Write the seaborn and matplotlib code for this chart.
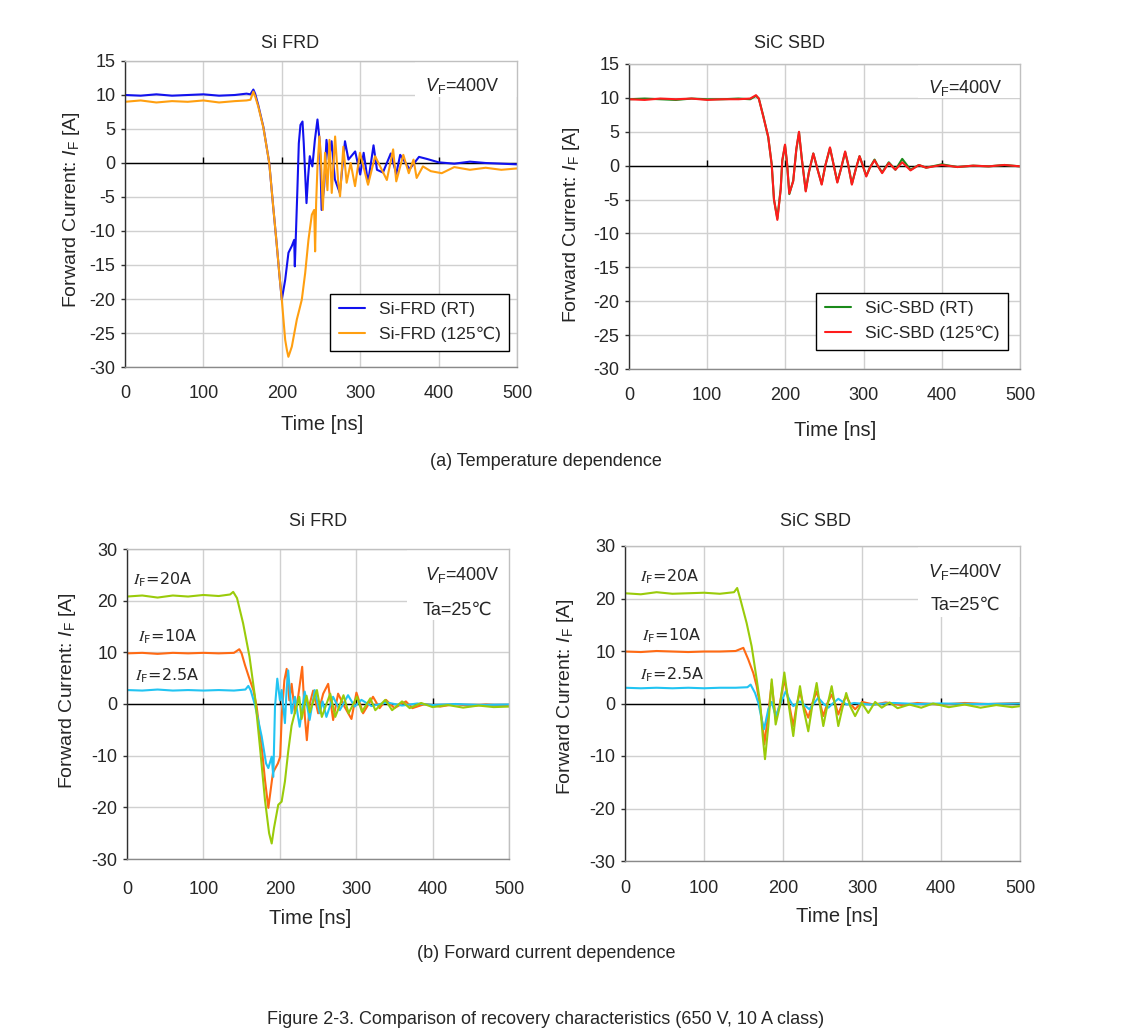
import matplotlib
matplotlib.use('Agg')
import matplotlib.pyplot as plt
import matplotlib.patches as mpatches
import pandas as pd
import seaborn as sns

sns.set_style('white')
plt.rcParams['font.family'] = ['Liberation Sans', 'DejaVu Sans']
plt.rcParams['mathtext.fontset'] = 'custom'
plt.rcParams['mathtext.rm'] = 'Liberation Sans'
plt.rcParams['mathtext.it'] = 'Liberation Sans:italic'
plt.rcParams['axes.unicode_minus'] = False

# ---- data: (time [ns], current [A]) ----
# (a) temperature dependence, Si FRD
si_rt = [(0, 10.0), (20, 9.9), (40, 10.1), (60, 9.9), (80, 10.0), (100, 10.1), (120, 9.9), (140, 10.0),
         (155, 10.2), (160, 10.1), (163.7, 10.8), (166, 10.2), (170, 8.5), (176.5, 5.3), (184, 0.0),
         (189, -6.4), (193.4, -11.8), (197, -16.5), (200, -20.1), (204.3, -17.2), (208.5, -13.2),
         (212.8, -12.2), (215.8, -11.3), (216.6, -15.2), (217.9, -10.8), (220, -3.5), (221.7, 2.9),
         (223.8, 5.6), (226.4, 6.1), (228, 2.9), (231.5, -5.9), (233.6, -2.0), (235.7, 1.0), (239, -0.5),
         (242.2, 3.4), (245.5, 6.4), (248.6, 2.9), (250.8, -6.9), (254, -3.5), (257, 3.4), (260, 0.5),
         (263.5, 3.2), (267.7, -2.4), (274, -4.4), (280.6, 3.2), (285, 0.5), (293.6, 1.7), (300, -1.7),
         (304.4, 1.5), (310, -2.9), (317, 2.6), (321.4, -1.0), (329, -1.4), (339, 1.4), (346, -1.6),
         (351, 1.2), (363, -0.9), (375, 0.9), (385, 0.6), (400, 0.1), (420, -0.1), (440, 0.2),
         (460, 0.0), (480, -0.1), (500, -0.2)]
si_125 = [(0, 9.0), (20, 9.2), (40, 8.9), (60, 9.1), (80, 9.0), (100, 9.2), (120, 8.9), (140, 9.1),
          (155, 9.2), (160, 9.3), (163.7, 10.5), (166, 9.8), (170, 8.3), (176.5, 5.2), (184, 0.0),
          (189, -6.4), (193.4, -11.8), (197, -16.5), (200, -20.1), (204.3, -26.0), (206.5, -27.5),
          (208.4, -28.5), (210.5, -27.8), (212.8, -27.0), (216, -25.0), (219.2, -23.0), (222.5, -21.5),
          (225.5, -20.1), (229.8, -16.2), (234, -11.3), (238.3, -7.6), (241.3, -6.9), (242.5, -13.0),
          (243.8, -5.9), (245.5, -0.5), (248, 3.9), (249.8, 1.0), (252.3, -6.9), (255.2, 1.5),
          (258.2, -4.0), (260.8, 3.4), (263.7, -4.4), (268, 3.9), (272, -2.9), (274.3, -4.9),
          (278.5, 2.4), (282.7, -2.9), (287.8, 0.0), (293.4, -3.4), (299.7, 1.5), (310, -3.2),
          (319, 1.0), (334, -2.5), (342, 2.0), (346, -2.7), (355, 1.2), (362, -1.5), (368, 0.5),
          (372, -2.2), (380, -0.5), (390, -1.2), (404, -1.5), (420, -0.6), (440, -1.0), (460, -0.7),
          (480, -1.0), (500, -0.8)]

# (a) temperature dependence, SiC SBD
sic_rt = [(0, 9.8), (20, 9.9), (40, 9.8), (60, 9.7), (80, 9.9), (100, 9.8), (120, 9.8), (140, 9.9),
          (155, 9.8), (162.4, 10.3), (166, 9.9), (171.8, 7.3), (178, 4.2), (182.5, 0.2), (185.4, -5.0),
          (189.7, -7.8), (194, -3.4), (196, 0.7), (199.5, 3.0), (202, 0.5), (205, -4.2), (210, -2.2),
          (214, 2.4), (217.4, 4.9), (221, 1.0), (226, -3.7), (230, -1.0), (235.7, 1.8), (241, -0.5),
          (246.4, -2.7), (251, 0.0), (257, 2.6), (261, 0.5), (266.4, -2.4), (271, -0.5), (276.4, 2.0),
          (280, 0.3), (285, -2.7), (290, -0.5), (294.8, 1.4), (299, 0.0), (303.4, -1.5), (308, -0.3),
          (314, 0.9), (318, 0.0), (323.7, -1.0), (332.2, 0.5), (340.7, -0.6), (349.4, 1.0),
          (360, -0.6), (370.7, 0.1), (380, -0.3), (400, 0.2), (420, -0.2), (440, 0.0), (460, -0.1),
          (480, 0.1), (500, -0.1)]
sic_125 = [(0, 9.8), (20, 9.7), (40, 9.9), (60, 9.8), (80, 9.9), (100, 9.7), (120, 9.8), (140, 9.8),
           (155, 9.9), (162.4, 10.4), (166, 9.9), (171.8, 7.2), (178, 4.3), (182.5, 0.1), (185.4, -5.0),
           (189.7, -8.0), (194, -3.5), (196, 0.8), (199.5, 3.1), (202, 0.5), (205, -4.1), (210, -2.3),
           (214, 2.5), (217.4, 5.0), (221, 1.0), (226, -3.8), (230, -1.0), (235.7, 1.8), (241, -0.5),
           (246.4, -2.8), (251, 0.0), (257, 2.7), (261, 0.5), (266.4, -2.5), (271, -0.5), (276.4, 2.1),
           (280, 0.3), (285, -2.8), (290, -0.5), (294.8, 1.4), (299, 0.0), (303.4, -1.6), (308, -0.3),
           (314, 0.8), (318, 0.0), (323.7, -1.1), (332.2, 0.4), (340.7, -0.6), (349.4, 0.5),
           (360, -0.7), (370.7, 0.1), (380, -0.3), (400, 0.1), (420, -0.2), (440, 0.0), (460, -0.1),
           (480, 0.1), (500, -0.1)]

# (b) forward current dependence, Si FRD
frd_20a = [(0, 20.8), (20, 21.0), (40, 20.6), (60, 21.0), (80, 20.8), (100, 21.1), (120, 20.9),
           (135, 21.2), (139, 21.7), (144, 20.5), (152, 15.6), (160.3, 9.2), (167.5, 1.4), (174, -8.3),
           (180.6, -18.6), (186, -25.0), (189.4, -27.0), (192.4, -24.0), (198, -19.5), (202.4, -18.9),
           (206.7, -15.0), (211, -9.2), (215.4, -4.2), (219.8, -1.6), (225.5, 1.4), (228.5, -2.9),
           (235, 1.6), (239.3, -1.6), (246, 1.6), (248.6, 2.7), (255, -2.5), (266, 2.0), (272.6, -2.5),
           (283.4, 1.7), (290, -1.8), (301, 1.4), (307.5, -1.5), (318.5, 1.1), (325, -1.2), (338, 0.8),
           (347, -1.2), (360, 0.5), (370, -0.8), (385, 0.2), (400, -0.6), (420, -0.2), (440, -0.7),
           (460, -0.3), (480, -0.6), (500, -0.5)]
frd_10a = [(0, 9.8), (20, 9.9), (40, 9.7), (60, 9.9), (80, 9.8), (100, 9.9), (120, 9.8), (140, 9.9),
           (147, 10.6), (150, 9.8), (154.5, 7.5), (160, 5.0), (165.4, 2.7), (169.7, -0.5), (176.3, -8.3),
           (180.6, -14.7), (185, -20.1), (191, -13.3), (197.5, -11.5), (200.5, -10.2), (202.7, -1.8),
           (206, 4.6), (209, 6.8), (212.5, 0.7), (215.5, 3.9), (219.8, -1.8), (224, 1.4), (229.3, 7.2),
           (232.8, -2.5), (235.4, -7.0), (239.3, 0.1), (243.7, 2.6), (250.2, -1.8), (256.8, 2.0),
           (263.3, 3.9), (269.8, -3.1), (276.3, 2.0), (285, -0.6), (293.8, -2.9), (300.3, 2.2),
           (309, -1.8), (322, 1.4), (330.6, -0.8), (339, 0.8), (350, -0.8), (365, 0.5), (373.6, -0.8),
           (390, 0.0), (410, -0.5), (430, 0.0), (450, -0.4), (470, -0.1), (500, -0.4)]
frd_2a5 = [(0, 2.7), (20, 2.6), (40, 2.8), (60, 2.6), (80, 2.7), (100, 2.6), (120, 2.7), (140, 2.6),
           (155, 2.8), (158.8, 3.5), (162, 2.6), (167.5, -0.2), (176.3, -6.3), (182, -11.5), (185, -12.4),
           (189.4, -10.2), (191.5, -14.1), (193.7, -0.6), (196.7, 4.9), (200.2, 0.7), (202.4, 2.7),
           (206.7, -3.7), (209, 3.0), (211, 6.5), (215.4, -1.8), (219.8, 1.4), (226, -4.4), (232.6, 2.4),
           (239, -3.1), (245.7, 2.7), (252.3, -1.8), (256, 0.5), (261, -2.5), (269.7, 1.4),
           (278.5, -1.2), (289.3, 1.7), (298, -0.5), (306.8, 0.8), (320, -0.4), (340, 0.3),
           (360, -0.3), (380, 0.1), (400, -0.2), (430, 0.0), (460, -0.2), (500, -0.1)]

# (b) forward current dependence, SiC SBD
sbd_20a = [(0, 21.0), (20, 20.8), (40, 21.2), (60, 20.9), (80, 21.0), (100, 21.1), (120, 20.9),
           (138, 21.2), (142, 22.0), (145.6, 20.1), (154, 15.3), (160.3, 10.9), (166.7, 4.6), (171, 0.1),
           (174.3, -6.2), (177.2, -10.6), (181.4, -4.3), (185.7, 4.6), (190.7, -4.0), (196, -0.5),
           (201.7, 5.9), (207, 0.0), (213, -6.2), (217, -1.0), (221.5, 3.3), (226, -1.0), (232, -5.3),
           (237, -0.5), (242.6, 3.9), (247, -0.5), (251, -4.3), (256, -0.5), (261.6, 3.3), (266, -0.5),
           (270, -4.3), (275, -1.0), (280, 2.0), (285, -0.5), (291.3, -2.4), (299.7, 0.1), (308, -1.8),
           (316.6, 0.3), (325, -0.8), (335, 0.2), (345, -0.9), (360, -0.2), (375, -0.8), (390, 0.0),
           (410, -0.7), (430, -0.2), (450, -0.8), (470, -0.3), (490, -0.7), (500, -0.5)]
sbd_10a = [(0, 9.9), (20, 9.8), (40, 10.0), (60, 9.9), (80, 9.8), (100, 9.9), (120, 9.9), (140, 10.0),
           (149.8, 10.6), (156, 8.4), (162.4, 5.8), (166.7, 3.3), (171, -0.5), (174.3, -4.3),
           (176.4, -7.8), (181.4, -1.8), (185.7, 3.9), (190.7, -3.0), (196, 0.0), (201.7, 4.6),
           (207, 0.5), (213, -4.3), (217, -0.5), (221.5, 2.3), (226, -0.5), (232, -2.7), (237, 0.0),
           (242.6, 2.3), (247, 0.0), (251, -2.4), (256, 0.0), (261.6, 1.7), (266, 0.0), (270, -2.1),
           (275, 0.0), (280, 1.4), (285, 0.0), (291.3, -1.1), (300, 0.3), (315, -0.2), (330, 0.2),
           (350, -0.3), (370, 0.1), (400, -0.2), (430, 0.1), (460, -0.1), (500, 0.1)]
sbd_2a5 = [(0, 3.0), (20, 2.9), (40, 3.0), (60, 2.9), (80, 3.0), (100, 2.9), (120, 3.0), (140, 3.0),
           (155, 3.1), (159, 3.6), (164.6, 2.0), (168.8, 0.1), (173, -3.0), (176, -4.9), (181.4, -1.1),
           (185.7, 0.3), (190.7, -2.4), (197, 0.0), (203.4, 2.3), (208, 0.8), (213, -0.5), (221.5, 0.4),
           (227, -0.3), (233.3, -1.1), (239, 0.0), (244.7, 1.1), (251, 0.0), (257.4, -0.8), (263, 0.0),
           (270, 0.9), (280.6, -0.2), (290, 0.1), (310, -0.2), (340, 0.1), (370, -0.1), (400, 0.0),
           (450, -0.1), (500, 0.0)]

x_ticks = [0, 100, 200, 300, 400, 500]
y_ticks_a = [15, 10, 5, 0, -5, -10, -15, -20, -25, -30]
y_ticks_b = [30, 20, 10, 0, -10, -20, -30]

W, H = 1129, 1035
fig = plt.figure(figsize=(W / 100, H / 100), dpi=100)


def box(l, t, r, b):
    return [l / W, 1 - b / H, (r - l) / W, (b - t) / H]


def ftext(x, y, s, **kw):
    fig.text(x / W, 1 - y / H, s, ha='center', va='center', **kw)


def setup(ax, yticks, xpad):
    ax.set_xlim(0, 500)
    ax.set_ylim(min(yticks), max(yticks))
    ax.set_xticks(x_ticks)
    ax.set_yticks(yticks)
    ax.grid(True, color='#d0d0d0', lw=1)
    ax.set_axisbelow(True)
    for side in ['top', 'right']:
        ax.spines[side].set_color('#c0c0c0')
    ax.spines['bottom'].set_color('#8a8a8a')
    ax.spines['left'].set_color('#303030')
    for sp in ax.spines.values():
        sp.set_linewidth(1)
    ax.tick_params(axis='y', direction='out', length=3, width=1, color='#303030',
                   labelsize=13, pad=4, left=True)
    ax.tick_params(axis='x', length=0, labelsize=13, pad=xpad)
    ax.axhline(0, color='black', lw=1, zorder=1.5)
    ax.plot(x_ticks[1:-1], [0] * 4, ls='none', marker=2, ms=4, mew=1, color='black', zorder=1.5)
    ax.set_xlabel('')
    ax.set_ylabel('')


def trace(ax, data, color, label=None):
    df = pd.DataFrame(data, columns=['t', 'i'])
    sns.lineplot(data=df, x='t', y='i', ax=ax, color=color, lw=1.5, sort=False,
                 estimator=None, label=label, legend=False)


def corner(ax, x0, y0):
    ax.add_patch(mpatches.Rectangle((x0, y0), 1 - x0, 1 - y0, transform=ax.transAxes,
                                    facecolor='white', edgecolor='none', zorder=1))


def legend(ax, anchor):
    leg = ax.legend(loc='lower right', bbox_to_anchor=anchor, borderaxespad=0, fontsize=12.5,
                    frameon=True, fancybox=False, edgecolor='black', framealpha=1,
                    handlelength=1.5, borderpad=0.5, labelspacing=0.55)
    leg.get_frame().set_linewidth(1)


vf = r'$V_{\mathregular{F}}$=400V'

# ---- (a) left: Si FRD ----
ax1 = fig.add_axes(box(125, 61, 517, 367))
trace(ax1, si_rt, '#1212ee', 'Si-FRD (RT)')
trace(ax1, si_125, '#ff9f10', 'Si-FRD (125℃)')
setup(ax1, y_ticks_a, 13)
corner(ax1, 0.74, 0.882)
ax1.text(0.86, 0.918, vf, transform=ax1.transAxes, ha='center', va='center', fontsize=13)
legend(ax1, (0.98, 0.052))

# ---- (a) right: SiC SBD ----
ax2 = fig.add_axes(box(629, 64, 1020, 369))
trace(ax2, sic_rt, '#1a8a1a', 'SiC-SBD (RT)')
trace(ax2, sic_125, '#ff1c1c', 'SiC-SBD (125℃)')
setup(ax2, y_ticks_a, 13)
corner(ax2, 0.739, 0.889)
ax2.text(0.859, 0.921, vf, transform=ax2.transAxes, ha='center', va='center', fontsize=13)
legend(ax2, (0.969, 0.062))

# ---- (b) left: Si FRD ----
ax3 = fig.add_axes(box(127, 549, 509, 859))
trace(ax3, frd_10a, '#ff6a14')
trace(ax3, frd_2a5, '#22c4f2')
trace(ax3, frd_20a, '#9acb0a')
setup(ax3, y_ticks_b, 15.5)
corner(ax3, 0.733, 0.771)
ax3.text(0.877, 0.916, vf, transform=ax3.transAxes, ha='center', va='center', fontsize=13)
ax3.text(0.864, 0.803, 'Ta=25℃', transform=ax3.transAxes, ha='center', va='center', fontsize=13)
for lab, yy, xx in [('20A', 0.900, 0.016), ('10A', 0.716, 0.029), ('2.5A', 0.590, 0.021)]:
    ax3.text(xx, yy, r'$I_{\mathregular{F}}$=' + lab, transform=ax3.transAxes, ha='left',
             va='center', fontsize=11.5, family='DejaVu Sans', math_fontfamily='stix')

# ---- (b) right: SiC SBD ----
ax4 = fig.add_axes(box(625, 546, 1020, 861))
trace(ax4, sbd_10a, '#ff6a14')
trace(ax4, sbd_2a5, '#22c4f2')
trace(ax4, sbd_20a, '#9acb0a')
setup(ax4, y_ticks_b, 14)
corner(ax4, 0.741, 0.776)
ax4.text(0.861, 0.917, vf, transform=ax4.transAxes, ha='center', va='center', fontsize=13)
ax4.text(0.863, 0.813, 'Ta=25℃', transform=ax4.transAxes, ha='center', va='center', fontsize=13)
for lab, yy, xx in [('20A', 0.902, 0.038), ('10A', 0.714, 0.043), ('2.5A', 0.590, 0.038)]:
    ax4.text(xx, yy, r'$I_{\mathregular{F}}$=' + lab, transform=ax4.transAxes, ha='left',
             va='center', fontsize=11.5, family='DejaVu Sans', math_fontfamily='stix')

# ---- titles, axis labels, captions ----
ylab = r'Forward Current: $I_{\mathregular{F}}$ [A]'
ftext(290, 43, 'Si FRD', fontsize=13)
ftext(790, 43, 'SiC SBD', fontsize=13)
ftext(318, 522, 'Si FRD', fontsize=13)
ftext(815, 522, 'SiC SBD', fontsize=13)
ftext(322, 424, 'Time [ns]', fontsize=14.5)
ftext(835, 430, 'Time [ns]', fontsize=14.5)
ftext(310, 919, 'Time [ns]', fontsize=14.5)
ftext(837, 917, 'Time [ns]', fontsize=14.5)
ftext(72, 210, ylab, fontsize=14, rotation=90)
ftext(572, 225, ylab, fontsize=14, rotation=90)
ftext(68, 691, ylab, fontsize=14, rotation=90)
ftext(566, 697, ylab, fontsize=14, rotation=90)
ftext(546, 462, '(a) Temperature dependence', fontsize=13)
ftext(546, 953, '(b) Forward current dependence', fontsize=13)
ftext(546, 1020, 'Figure 2-3. Comparison of recovery characteristics (650 V, 10 A class)', fontsize=13)

fig.savefig('out.png', dpi=100)
